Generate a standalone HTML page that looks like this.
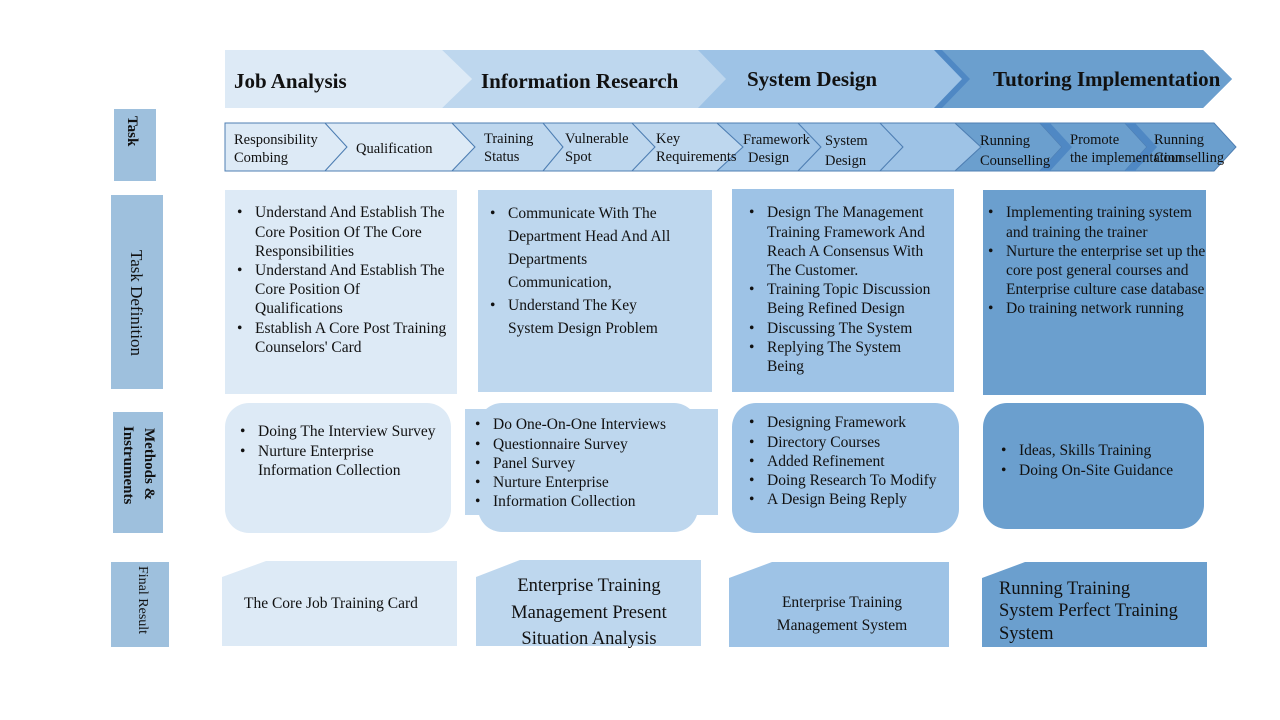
<!DOCTYPE html>
<html><head><meta charset="utf-8"><style>
html,body{margin:0;padding:0;background:#fff;width:1280px;height:720px;overflow:hidden}
svg text{font-family:"Liberation Serif",serif;fill:#111}
</style></head><body>
<svg width="1280" height="720" viewBox="0 0 1280 720" xmlns="http://www.w3.org/2000/svg">
<polygon points="225,50 442,50 472,79 442,108 225,108" fill="#ddeaf6"/>
<polygon points="442,50 703,50 730,79 703,108 442,108 472,79" fill="#bed7ee"/>
<polygon points="698,50 939,50 968,79 939,108 698,108 726,79" fill="#9ec3e6"/>
<polygon points="934,50 1203,50 1232,79 1203,108 934,108 962,79" fill="#4f88c4"/>
<polygon points="942,50 1203,50 1232,79 1203,108 942,108 970,79" fill="#6b9fce"/>
<g font-weight="bold" font-size="21">
<text x="234" y="88">Job Analysis</text>
<text x="481" y="88">Information Research</text>
<text x="747" y="86">System Design</text>
<text x="993" y="86">Tutoring Implementation</text>
</g>
<g stroke="#4f7fb3" stroke-width="1">
<polygon points="225,123 325,123 347,147 325,171 225,171" fill="#ddeaf6"/>
<polygon points="325,123 452,123 475,147 452,171 325,171 347,147" fill="#ddeaf6"/>
<polygon points="452,123 543,123 563,147 543,171 452,171 475,147" fill="#bed7ee"/>
<polygon points="543,123 632,123 655,147 632,171 543,171 563,147" fill="#bed7ee"/>
<polygon points="632,123 717,123 743,147 717,171 632,171 655,147" fill="#bed7ee"/>
<polygon points="717,123 798,123 821,147 798,171 717,171 743,147" fill="#9ec3e6"/>
<polygon points="798,123 880,123 903,147 880,171 798,171 821,147" fill="#9ec3e6"/>
<polygon points="880,123 955,123 981,147 955,171 880,171 903,147" fill="#9ec3e6"/>
</g>
<polygon points="955,123 1040,123 1062,147 1040,171 955,171 981,147" fill="#6b9fce" stroke="#4f7fb3"/>
<polygon points="1040,123 1125,123 1147,147 1125,171 1040,171 1062,147" fill="#6b9fce" stroke="#4f7fb3"/>
<polygon points="1125,123 1214,123 1236,147 1214,171 1125,171 1147,147" fill="#6b9fce" stroke="#4f7fb3"/>
<polygon points="1040,123 1050,123 1072,147 1050,171 1040,171 1062,147" fill="#4f88c4"/>
<polygon points="1125,123 1135,123 1157,147 1135,171 1125,171 1147,147" fill="#4f88c4"/>
<g font-size="14.5">
<text x="234" y="144">Responsibility</text><text x="234" y="162">Combing</text>
<text x="356" y="153">Qualification</text>
<text x="484" y="143">Training</text><text x="484" y="161">Status</text>
<text x="565" y="143">Vulnerable</text><text x="565" y="161">Spot</text>
<text x="656" y="143">Key</text><text x="656" y="161">Requirements</text>
<text x="743" y="144">Framework</text><text x="748" y="162">Design</text>
<text x="825" y="145">System</text><text x="825" y="165">Design</text>
<text x="980" y="145">Running</text><text x="980" y="165">Counselling</text>
<text x="1070" y="144">Promote</text><text x="1070" y="162">the implementation</text>
<text x="1154" y="144">Running</text><text x="1154" y="162">Counselling</text>
</g>
<rect x="114" y="109" width="42" height="72" fill="#9ec0dd"/>
<rect x="111" y="195" width="52" height="194" fill="#9ec0dd"/>
<rect x="113" y="412" width="50" height="121" fill="#9ec0dd"/>
<rect x="111" y="562" width="58" height="85" fill="#9ec0dd"/>
<text transform="translate(128,116) rotate(90)" font-weight="bold" font-size="15">Task</text>
<text transform="translate(131,250) rotate(90)" font-size="17">Task Definition</text>
<text transform="translate(145,428) rotate(90)" font-weight="bold" font-size="15">Methods &amp;</text>
<text transform="translate(124,426) rotate(90)" font-weight="bold" font-size="15">Instruments</text>
<text transform="translate(139,566) rotate(90)" font-size="14">Final Result</text>
<rect x="225" y="190" width="232" height="204" fill="#ddeaf6"/>
<rect x="478" y="190" width="234" height="202" fill="#bed7ee"/>
<rect x="732" y="189" width="222" height="203" fill="#9ec3e6"/>
<rect x="983" y="190" width="223" height="205" fill="#6b9fce"/>
<g font-size="15.5">
<text x="237" y="217">•</text><text x="255" y="217">Understand And Establish The</text>
<text x="255" y="237">Core Position Of The Core</text><text x="255" y="256">Responsibilities</text>
<text x="237" y="275">•</text><text x="255" y="275">Understand And Establish The</text>
<text x="255" y="294">Core Position Of</text><text x="255" y="313">Qualifications</text>
<text x="237" y="333">•</text><text x="255" y="333">Establish A Core Post Training</text>
<text x="255" y="352">Counselors' Card</text>

<text x="490" y="218">•</text><text x="508" y="218">Communicate With The</text>
<text x="508" y="241">Department Head And All</text><text x="508" y="264">Departments</text>
<text x="508" y="287">Communication,</text>
<text x="490" y="310">•</text><text x="508" y="310">Understand The Key</text>
<text x="508" y="333">System Design Problem</text>

<text x="749" y="217">•</text><text x="767" y="217">Design The Management</text>
<text x="767" y="237">Training Framework And</text><text x="767" y="256">Reach A Consensus With</text>
<text x="767" y="275">The Customer.</text>
<text x="749" y="294">•</text><text x="767" y="294">Training Topic Discussion</text>
<text x="767" y="313">Being Refined Design</text>
<text x="749" y="333">•</text><text x="767" y="333">Discussing The System</text>
<text x="749" y="352">•</text><text x="767" y="352">Replying The System</text>
<text x="767" y="371">Being</text>

<text x="988" y="217">•</text><text x="1006" y="217">Implementing training system</text>
<text x="1006" y="237">and training the trainer</text>
<text x="988" y="256">•</text><text x="1006" y="256">Nurture the enterprise set up the</text>
<text x="1006" y="275">core post general courses and</text>
<text x="1006" y="294">Enterprise culture case database</text>
<text x="988" y="313">•</text><text x="1006" y="313">Do training network running</text>
</g>
<rect x="225" y="403" width="226" height="130" rx="24" fill="#ddeaf6"/>
<rect x="465" y="409" width="253" height="106" fill="#bed7ee"/>
<rect x="478" y="403" width="220" height="129" rx="24" fill="#bed7ee"/>
<rect x="732" y="403" width="227" height="130" rx="24" fill="#9ec3e6"/>
<rect x="983" y="403" width="221" height="126" rx="24" fill="#6b9fce"/>
<g font-size="15.5">
<text x="240" y="436">•</text><text x="258" y="436">Doing The Interview Survey</text>
<text x="240" y="456">•</text><text x="258" y="456">Nurture Enterprise</text><text x="258" y="475">Information Collection</text>
<text x="475" y="429">•</text><text x="493" y="429">Do One-On-One Interviews</text>
<text x="475" y="449">•</text><text x="493" y="449">Questionnaire Survey</text>
<text x="475" y="468">•</text><text x="493" y="468">Panel Survey</text>
<text x="475" y="487">•</text><text x="493" y="487">Nurture Enterprise</text>
<text x="475" y="506">•</text><text x="493" y="506">Information Collection</text>
<text x="749" y="427">•</text><text x="767" y="427">Designing Framework</text>
<text x="749" y="447">•</text><text x="767" y="447">Directory Courses</text>
<text x="749" y="466">•</text><text x="767" y="466">Added Refinement</text>
<text x="749" y="485">•</text><text x="767" y="485">Doing Research To Modify</text>
<text x="749" y="504">•</text><text x="767" y="504">A Design Being Reply</text>
<text x="1001" y="455">•</text><text x="1019" y="455">Ideas, Skills Training</text>
<text x="1001" y="475">•</text><text x="1019" y="475">Doing On-Site Guidance</text>
</g>
<polygon points="222,577 266,561 457,561 457,646 222,646" fill="#ddeaf6"/>
<polygon points="476,577 520,560 701,560 701,646 476,646" fill="#bed7ee"/>
<polygon points="729,578 772,562 949,562 949,647 729,647" fill="#9ec3e6"/>
<polygon points="982,578 1025,562 1207,562 1207,647 982,647" fill="#6b9fce"/>
<text x="244" y="608" font-size="15.5">The Core Job Training Card</text>
<g font-size="18.5" text-anchor="middle">
<text x="589" y="591">Enterprise Training</text>
<text x="589" y="618">Management Present</text>
<text x="589" y="644">Situation Analysis</text>
</g>
<g font-size="15.5" text-anchor="middle">
<text x="842" y="607">Enterprise Training</text>
<text x="842" y="630">Management System</text>
</g>
<g font-size="18.5">
<text x="999" y="594">Running Training</text>
<text x="999" y="616">System Perfect Training</text>
<text x="999" y="639">System</text>
</g>
</svg>
</body></html>
